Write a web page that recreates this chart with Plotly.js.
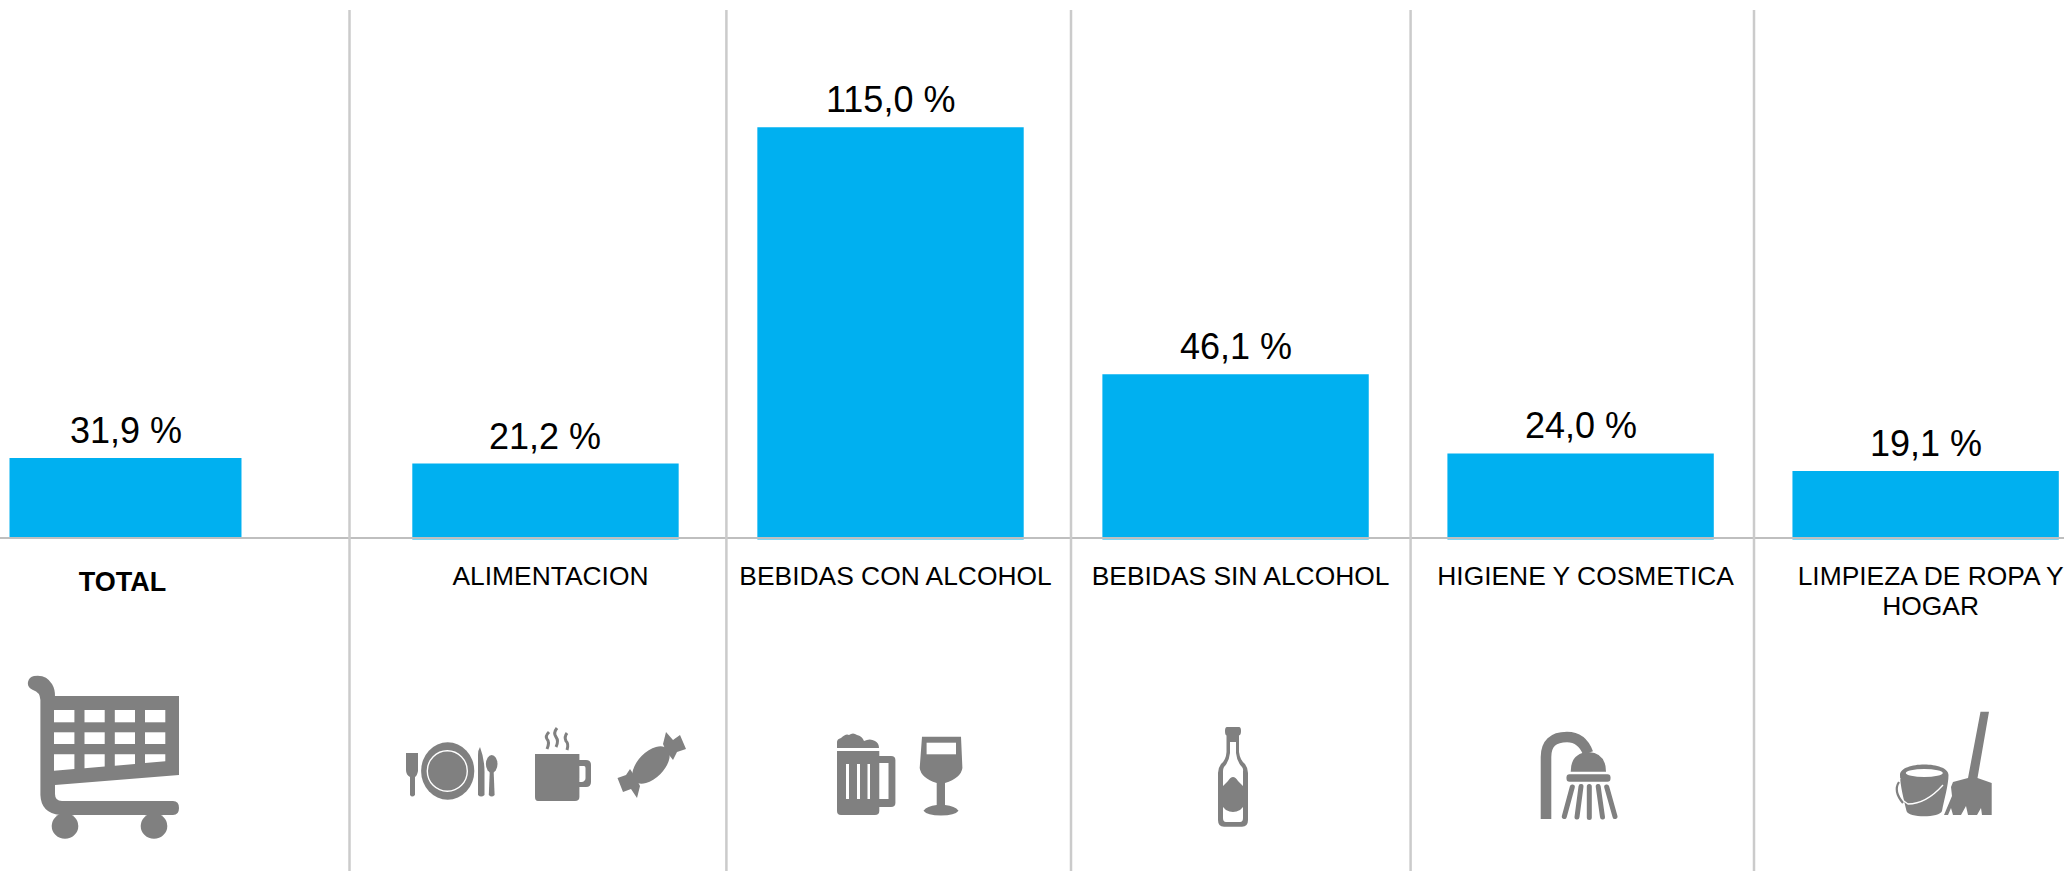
<!DOCTYPE html>
<html>
<head>
<meta charset="utf-8">
<script src="https://cdn.plot.ly/plotly-3.0.1.min.js"></script>
<style>html,body{margin:0;padding:0;background:#fff}</style>
</head>
<body>
<div id="chart" style="width:2064px;height:871px"></div>
<script>
const totalCategory = ['TOTAL'];
const totalValues = [31.9];
const totalText = ['31,9 %'];
const categories = ['ALIMENTACION', 'BEBIDAS CON ALCOHOL', 'BEBIDAS SIN ALCOHOL', 'HIGIENE Y COSMETICA', 'LIMPIEZA DE ROPA Y<br>HOGAR'];
const values = [21.2, 115.0, 46.1, 24.0, 19.1];
const valueText = ['21,2 %', '115,0 %', '46,1 %', '24,0 %', '19,1 %'];

const W = 2064, H = 871;
const BLUE = '#00B0F0', GREY = '#808080', RULE = '#CBCBCB', AXIS = '#BFBFBF';
const FONT = '"Liberation Sans", Arial, sans-serif';
const px = x => x / W, py = y => 1 - y / H;

/* pictograms: page-pixel coordinates, region (0,520)-(2064,871) */
const w = GREY;
const icons = `
<g fill="${w}">
 <!-- cart -->
 <path d="M34 676 Q46 674 52 684 Q55 689 55 696 L179 696 L179 775 L55 785 L55 794 Q55 801 62 801 L173 801 Q179 801 179 808 Q179 815 173 815 L60 815 Q41 813 40.4 795 L40.4 700 Q40 692 33 690 Q27 687 28 682 Q29 677 34 676Z"/>
 <ellipse cx="65" cy="826" rx="13.3" ry="12.8"/><ellipse cx="154" cy="826" rx="13.3" ry="12.8"/>
 <g fill="#fff">
  <rect x="54" y="710" width="20.4" height="12.3"/><rect x="84.5" y="710" width="20.2" height="12.3"/><rect x="114.8" y="710" width="20.2" height="12.3"/><rect x="145" y="710" width="20.3" height="12.3"/>
  <rect x="54" y="732.3" width="20.4" height="11.7"/><rect x="84.5" y="732.3" width="20.2" height="11.7"/><rect x="114.8" y="732.3" width="20.2" height="11.7"/><rect x="145" y="732.3" width="20.3" height="11.7"/>
  <path d="M54 754.3H74.4V769L54 770.7Z M84.5 754.3H104.7V766.6L84.5 768.3Z M114.8 754.3H135V764L114.8 765.8Z M145 754.3H165.3V761.3L145 763Z"/>
 </g>
 <!-- plate, fork, knife, spoon -->
 <ellipse cx="447.7" cy="771" rx="26.6" ry="28.7"/>
 <ellipse cx="447.3" cy="771" rx="20" ry="20.3" fill="none" stroke="#fff" stroke-width="1.4"/>
 <path d="M406 753H418V771Q417 776 415 777L415 795Q412 798 410 795L410 777Q406 775 406 770Z"/>
 <path d="M480 747Q485 760 484.5 775V795Q481 798 478 795V755Q478 750 480 747Z"/>
 <ellipse cx="491.7" cy="764" rx="5.8" ry="9"/><path d="M489.8 770H493.6L494.6 795Q491.7 798 488.8 795Z"/>
 <!-- mug -->
 <path d="M535 754H579.4V760H586Q591 760 591 765V782Q591 787 586 787H579.4V797Q579.4 801 575 801H538Q535 801 535 797Z"/>
 <path d="M579.4 766H584Q585.5 766 585.5 768V778Q585.5 781 582 782L579.4 782Z" fill="#fff"/>
 <g fill="none" stroke="${w}" stroke-width="3">
  <path d="M549 732Q545 736 547 739Q550 742 547 749"/>
  <path d="M557 728Q553 733 556 737Q559 741 556 747"/>
  <path d="M567 733Q564 737 566 741Q569 744 567 750"/>
 </g>
 <!-- candy -->
 <ellipse cx="651" cy="765" rx="23" ry="13" transform="rotate(-45 651 765)"/>
 <path d="M666 751L663 744L666 732L673 740L680 735L686 749L677 752L673 760Z"/>
 <path d="M636 778L640 786L637 798L631 789L623 792L617.5 778L626 775L630 769Z"/>
 <!-- beer -->
 <path d="M837 748V742Q837 739 841 738Q846 733 849 735Q853 732 857 735Q862 736 864 741Q870 738 875 741Q879 743 879 748Z"/>
 <path d="M837 751H879.3V756H891Q895.4 756 895.4 760V803Q895.4 807 891 807H879.3V811Q879.3 815 875 815H841Q837 815 837 811Z"/>
 <path d="M846 764H849V799H846Z M857 764H860V799H857Z M867.5 764H870V799H867.5Z M879.3 763H888.5V799H879.3Z" fill="#fff"/>
 <!-- wine -->
 <path d="M922 736.7H961L962.4 768Q961 778 945 783V805Q955 806 958.5 810.7Q955 815.5 941 815.5Q927 815.5 923.5 810.7Q927 806 936.7 805V783Q921 778 919.7 768Z"/>
 <rect x="926.6" y="742.7" width="29.4" height="11.6" fill="#fff"/>
 <!-- bottle -->
 <path d="M1227 727H1239Q1241 727 1241 731Q1241 735 1239 735.5V752Q1240 760 1245 764Q1248 768 1248 773V820Q1248 826.7 1242 826.7H1224Q1218 826.7 1218 820V773Q1218 768 1221 764Q1226 760 1226.5 752V735.5Q1225 735 1225 731Q1225 727 1227 727Z"/>
 <path d="M1230 742H1236V753Q1237 762 1242 767Q1243.5 769 1243 771V786L1238 781Q1233 773 1228 781L1223 786V771Q1223 769 1224 767Q1229 762 1230 753Z M1223 807L1226 810Q1233 814 1240 810L1243 807V818Q1243 822 1240 822H1226Q1223 822 1223 818Z" fill="#fff"/>
 <!-- shower -->
 <path d="M1546 819V757Q1546 737 1567 737Q1582 737 1588 753" fill="none" stroke="${w}" stroke-width="10.6" stroke-linejoin="round"/>
 <path d="M1570.7 771.7Q1570.7 753 1588.5 752Q1606 753 1606 771.7Z"/>
 <rect x="1566.5" y="774.2" width="44" height="7.6" rx="3"/>
 <g stroke="${w}" stroke-width="5" stroke-linecap="round" fill="none">
  <path d="M1572.3 787L1564.3 816.5M1581 786.5L1577 817M1589.3 786.5V817.5M1598.2 786.5L1602.5 817M1606.7 787L1615 816.5"/>
 </g>
 <!-- bucket -->
 <path d="M1900 775C1900 761 1948.5 761 1948.5 775C1948.5 785 1944 800 1942 811C1940 818 1908 818 1906.5 811C1904 800 1900 785 1900 775Z"/>
 <ellipse cx="1924.3" cy="773" rx="18.5" ry="4" fill="#fff"/>
 <path d="M1900 778Q1893 795 1908 804Q1926 804 1943 785" fill="none" stroke="#fff" stroke-width="1.3"/>
 <path d="M1899 782Q1893 791 1903 803" fill="none" stroke="${w}" stroke-width="2.2"/>
 <!-- mop -->
 <path d="M1980.5 711.7H1989L1977.5 778L1991.7 783V815H1982L1981 808L1977 815H1968L1966 806L1961 815H1953L1951 808L1948 815L1944 815L1952 796L1951 787L1953 782L1968 778Z"/>
</g>`;
const iconSvg = `<svg xmlns="http://www.w3.org/2000/svg" width="${W}" height="351" viewBox="0 520 ${W} 351">${icons}</svg>`;

const labelFont = {family: FONT, size: 26.4, color: '#000'};
const valueFont = {family: FONT, size: 36, color: '#000'};

const traces = [
  {type: 'bar', x: totalCategory, y: totalValues, xaxis: 'x', yaxis: 'y', marker: {color: BLUE}, hoverinfo: 'skip'},
  {type: 'bar', x: categories, y: values, xaxis: 'x2', yaxis: 'y2', marker: {color: BLUE}, hoverinfo: 'skip'}
];

const baseX = {
  type: 'category', anchor: 'free', position: py(537.5), showline: true, linecolor: AXIS, linewidth: 2.5,
  showgrid: false, zeroline: false, ticks: '', fixedrange: true, tickangle: 0, automargin: false
};

const annotation = (x, y, text, xref, yref) => ({
  x, y, text, xref, yref, showarrow: false, xanchor: 'center', yanchor: 'bottom', yshift: 5, font: valueFont
});

const layout = {
  width: W, height: H, autosize: false,
  margin: {l: 0, r: 0, t: 0, b: 0, pad: 0},
  paper_bgcolor: '#fff', plot_bgcolor: 'rgba(0,0,0,0)',
  showlegend: false, bargap: 0.228, hovermode: false,
  xaxis: Object.assign({}, baseX, {
    domain: [0, px(349.5)], range: [-0.4176, 0.7454],
    tickfont: {family: FONT, size: 27, color: '#000', weight: 700}, ticklabelstandoff: 20, ticklabelshift: -3
  }),
  xaxis2: Object.assign({}, baseX, {
    domain: [px(349.5), 1], range: [-0.568, 4.401],
    tickfont: labelFont, ticklabelstandoff: 14, ticklabelshift: 5
  }),
  yaxis: {domain: [0, 1], anchor: 'x', visible: false, fixedrange: true, range: [-(H - 537) / 2.476, 537 / 2.476]},
  yaxis2: {domain: [0, 1], anchor: 'x2', visible: false, fixedrange: true, range: [-(H - 539.5) / 3.584, 539.5 / 3.584]},
  shapes: [349.5, 726.4, 1071, 1410.6, 1754].map(x => ({
    type: 'line', xref: 'paper', yref: 'paper', x0: px(x), x1: px(x), y0: 0, y1: py(10),
    line: {color: RULE, width: 2.5}, layer: 'above'
  })),
  annotations: [
    annotation(totalCategory[0], totalValues[0], totalText[0], 'x', 'y'),
    ...categories.map((c, i) => annotation(c, values[i], valueText[i], 'x2', 'y2'))
  ],
  images: [{
    source: 'data:image/svg+xml;charset=utf-8,' + encodeURIComponent(iconSvg),
    xref: 'paper', yref: 'paper', x: 0, y: py(520), sizex: 1, sizey: 351 / H,
    xanchor: 'left', yanchor: 'top', sizing: 'stretch', layer: 'above'
  }]
};

Plotly.newPlot('chart', traces, layout, {displayModeBar: false, staticPlot: true}).then(gd => {
  /* tighter leading on the wrapped tick label: only the second line carries a non-zero dy */
  gd.querySelectorAll('.x2tick tspan.line').forEach(t => {
    if (parseFloat(t.getAttribute('dy')) > 0) t.setAttribute('dy', '1.14em');
  });
});
</script>
</body>
</html>
